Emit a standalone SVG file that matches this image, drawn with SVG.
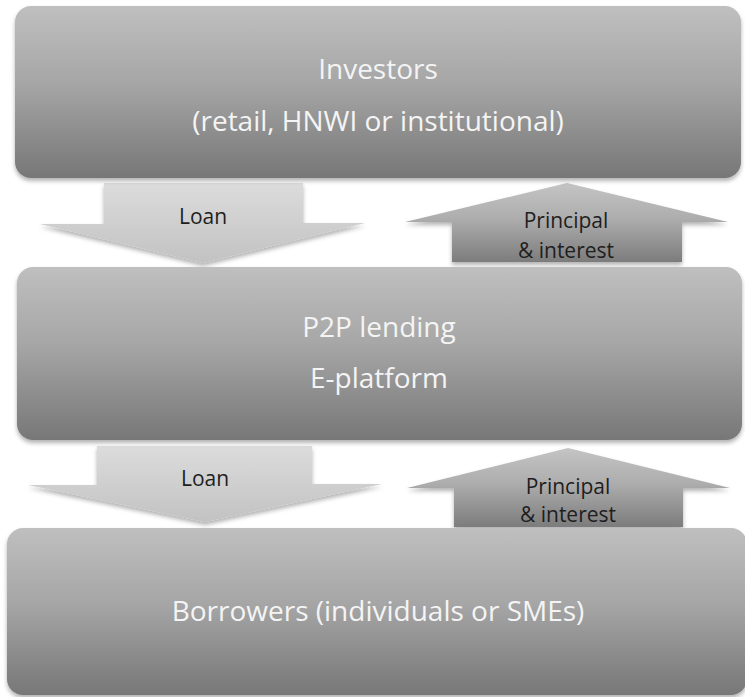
<svg xmlns="http://www.w3.org/2000/svg" width="745" height="697" viewBox="0 0 745 697">
  <defs>
    <!-- shared fills -->
    <linearGradient id="boxFill" x1="0" y1="0" x2="0" y2="1">
      <stop offset="0" stop-color="#bfbfbf"/>
      <stop offset="0.45" stop-color="#a6a6a6"/>
      <stop offset="1" stop-color="#777777"/>
    </linearGradient>
    <linearGradient id="downFill" x1="0" y1="0" x2="0" y2="1">
      <stop offset="0" stop-color="#dcdcdc"/>
      <stop offset="1" stop-color="#c2c2c2"/>
    </linearGradient>
    <linearGradient id="upFill" x1="0" y1="0" x2="0" y2="1">
      <stop offset="0" stop-color="#c4c4c4"/>
      <stop offset="0.45" stop-color="#adadad"/>
      <stop offset="1" stop-color="#7c7c7c"/>
    </linearGradient>
    <filter id="shadow" x="-5%" y="-10%" width="110%" height="125%">
      <feDropShadow dx="0" dy="3" stdDeviation="2" flood-color="#000" flood-opacity="0.3"/>
    </filter>
  </defs>
  <style>
    .box { fill: url(#boxFill); filter: url(#shadow); }
    .down { fill: url(#downFill); filter: url(#shadow); }
    .up { fill: url(#upFill); filter: url(#shadow); }
    .title { font-family: "Open Sans", "Noto Sans", sans-serif; font-size: 28px; fill: #f4f4f4; text-anchor: middle; }
    .label { font-family: "Open Sans", "Noto Sans", sans-serif; font-size: 21px; fill: #1e1e1e; text-anchor: middle; }
  </style>

  <rect width="745" height="697" fill="#ffffff"/>

  <!-- flow arrows between the tiers -->
  <g id="connectors">
    <g id="loan-1">
      <polygon class="down" points="104,183 303,183 303,223 365,223 203,263 40,224 104,224"/>
      <text class="label" x="203" y="224">Loan</text>
    </g>
    <g id="repay-1">
      <polygon class="up" points="567,183 728,222 682,222 682,262 452,262 452,222 405,222"/>
      <text class="label" x="566" y="228">Principal</text>
      <text class="label" x="566" y="258">&amp; interest</text>
    </g>
    <g id="loan-2">
      <polygon class="down" points="97,446 312,446 312,484 382,484 205,522 28,485 97,485"/>
      <text class="label" x="205" y="486">Loan</text>
    </g>
    <g id="repay-2">
      <polygon class="up" points="568,448 730,488 683,488 683,527 454,527 454,488 407,488"/>
      <text class="label" x="568" y="494">Principal</text>
      <text class="label" x="568" y="522">&amp; interest</text>
    </g>
  </g>

  <g id="investors">
    <rect class="box" x="15" y="6" width="726" height="172" rx="16"/>
    <text class="title" x="378" y="79">Investors</text>
    <text class="title" x="378" y="131">(retail, HNWI or institutional)</text>
  </g>

  <g id="platform">
    <rect class="box" x="17" y="267" width="725" height="173" rx="16"/>
    <text class="title" x="379" y="337">P2P lending</text>
    <text class="title" x="379" y="388">E-platform</text>
  </g>

  <g id="borrowers">
    <rect class="box" x="7" y="528" width="740" height="167" rx="16"/>
    <text class="title" x="378" y="621">Borrowers (individuals or SMEs)</text>
  </g>
</svg>
